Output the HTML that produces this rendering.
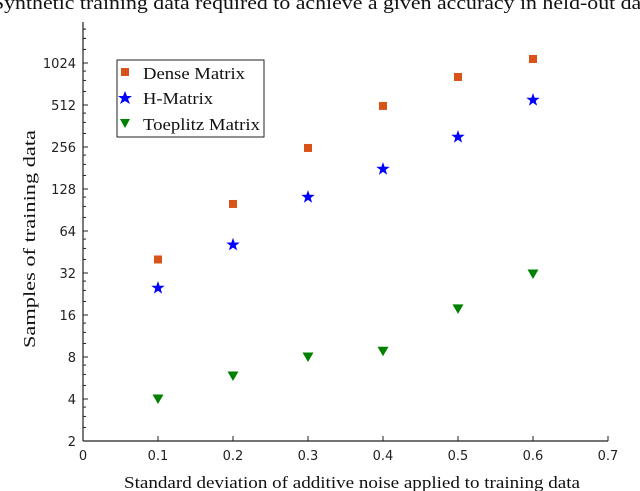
<!DOCTYPE html>
<html><head><meta charset="utf-8"><style>
body{margin:0;background:#fff;overflow:hidden}
svg{display:block}
.tk{font-family:"DejaVu Sans","Liberation Sans",sans-serif;font-size:13px;fill:#222}
.lb{font-family:"Liberation Serif",serif;font-size:17px;fill:#111}
</style></head><body>
<svg id="c" width="640" height="491">
<text class="lb" x="-8" y="9" textLength="665" lengthAdjust="spacingAndGlyphs" style="font-size:19px">Synthetic training data required to achieve a given accuracy in held-out data</text>
<g id="axes"></g><g id="marks"></g>
<text class="lb" x="124" y="488" textLength="456" lengthAdjust="spacingAndGlyphs">Standard deviation of additive noise applied to training data</text>
<text class="lb" transform="translate(35,348) rotate(-90)" textLength="218" lengthAdjust="spacingAndGlyphs">Samples of training data</text>
<g>
<rect x="117" y="60" width="147" height="77" fill="#fff" stroke="#222" stroke-width="1"/>
<rect x="121" y="68" width="8" height="8" fill="#d95319"/>
<text class="lb" x="143" y="79" textLength="102" lengthAdjust="spacingAndGlyphs">Dense Matrix</text>
<polygon points="125,91 127,96 132,96 128,99 130,104 125,101 120,104 122,99 118,96 123,96" fill="#0000ff"/>
<text class="lb" x="143" y="104" textLength="70" lengthAdjust="spacingAndGlyphs">H-Matrix</text>
<polygon points="120,119 130,119 125,128" fill="#008000"/>
<text class="lb" x="143" y="130" textLength="117" lengthAdjust="spacingAndGlyphs">Toeplitz Matrix</text>
</g>
</svg>
<script>
const xs=[0.1,0.2,0.3,0.4,0.5,0.6];
const dense=[40,100,252,504,813,1094];
const hmat=[25,51,112,178,302,556];
const toep=[4,5.85,8,8.8,17.7,31.5];
const xTicks=[0,0.1,0.2,0.3,0.4,0.5,0.6,0.7];
const yTicks=[2,4,8,16,32,64,128,256,512,1024];
const X=v=>83+v/0.7*525;
const Y=v=>441-(Math.log2(v)-1)*42;
const NS="http://www.w3.org/2000/svg";
function mk(t,a,p){const e=document.createElementNS(NS,t);for(const k in a)e.setAttribute(k,a[k]);p.appendChild(e);return e;}
const ax=document.getElementById('axes'),mg=document.getElementById('marks');
let l=mk('line',{x1:83,y1:22,x2:83,y2:441,stroke:'#222','stroke-width':1.2},ax);


l=mk('line',{x1:83,y1:441,x2:608,y2:441,stroke:'#222','stroke-width':1.2},ax);


xTicks.forEach(v=>{mk('line',{x1:X(v),y1:441,x2:X(v),y2:436,stroke:'#222'},ax);
const t=mk('text',{x:X(v),y:460,'text-anchor':'middle',class:'tk'},ax);t.textContent=v===0?'0':v.toFixed(1);

});
yTicks.forEach(v=>{mk('line',{x1:83,y1:Y(v),x2:88,y2:Y(v),stroke:'#222'},ax);
for(let m=1.25;m<2;m+=0.25)mk('line',{x1:83,y1:Y(v*m),x2:86,y2:Y(v*m),stroke:'#222'},ax);
const t=mk('text',{x:76,y:Y(v)+5,'text-anchor':'end',class:'tk'},ax);t.textContent=v;

});
for(let m=1.25;m<1.9;m+=0.25)mk('line',{x1:83,y1:Y(2048*m/2),x2:86,y2:Y(2048*m/2),stroke:'#222'},ax);
xs.forEach((x,i)=>{
 let e=mk('rect',{x:X(x)-4,y:Y(dense[i])-4,width:8,height:8,fill:'#d95319'},mg);
 
 
 const cx=X(x),cy=Y(hmat[i]);let p=[];
 for(let k=0;k<10;k++){const r=k%2?2.8:7,a=-Math.PI/2+k*Math.PI/5;p.push((cx+r*Math.cos(a)).toFixed(1)+','+(cy+r*Math.sin(a)).toFixed(1));}
 e=mk('polygon',{points:p.join(' '),fill:'#0000ff'},mg);
 
 
 const tx=X(x),ty=Y(toep[i]);
 e=mk('polygon',{points:`${tx-5.5},${ty-4.5} ${tx+5.5},${ty-4.5} ${tx},${ty+5}`,fill:'#008000'},mg);
 
 
});
</script>
</body></html>
